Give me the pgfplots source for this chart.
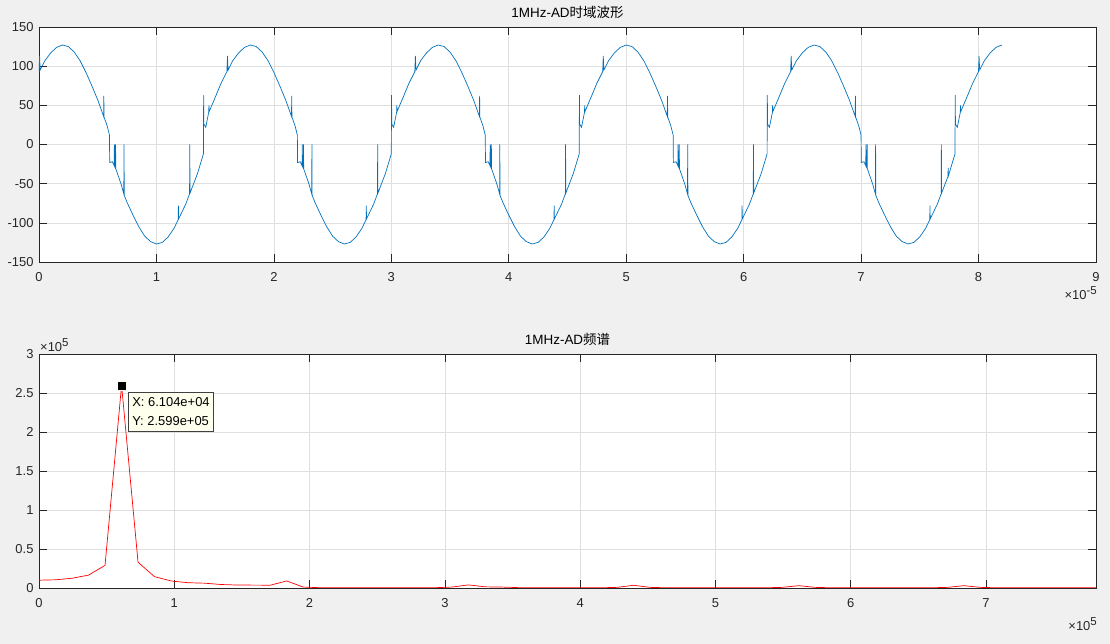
\documentclass[border=0pt]{standalone}
\usepackage{fontspec}
\setmainfont{Liberation Sans}
\newfontfamily\cjk{Noto Sans CJK SC}
\usepackage{pgfplots}
\pgfplotsset{compat=1.18}

\definecolor{figbg}{HTML}{F0F0F0}
\definecolor{axcol}{HTML}{262626}
\definecolor{mblue}{HTML}{0072BD}
\definecolor{gridcol}{HTML}{DFDFDF}
\definecolor{tipfill}{HTML}{FFFFEE}

\newcommand{\expo}[1]{{\fontsize{13}{15}\selectfont ×}10\raisebox{5bp}{\fontsize{11.5}{13}\selectfont #1}}

\pgfplotsset{
  matlab/.style={
    scale only axis, width=1057bp, height=235bp,
    clip mode=individual,
    axis background/.style={fill=white},
    axis line style={axcol, line width=0.6bp},
    grid=major, major grid style={gridcol, line width=0.6bp},
    tick align=inside, tick pos=both,
    xticklabel pos=lower, yticklabel pos=left,
    major tick length=8bp,
    every tick/.style={axcol, line width=0.6bp},
    tick label style={font=\fontsize{13}{15}\selectfont, text=axcol},
    /pgf/number format/assume math mode=true,
    title style={font=\fontsize{13.5}{15}\selectfont, text=black, anchor=base, at={(0.5,1)}, yshift=4bp},
    xticklabel style={yshift=-7bp},
    yticklabel style={xshift=-2bp},
  }
}

\begin{document}
\begin{tikzpicture}
\useasboundingbox (0,0) rectangle (1110bp,644bp);
\fill[figbg] (0,0) rectangle (1110bp,644bp);

% time domain (x in units of 1e-5 s)
\begin{axis}[matlab, at={(39bp,382bp)}, anchor=south west,
  xmin=0, xmax=9, ymin=-150, ymax=150,
  xtick={0,1,...,9}, ytick={-150,-100,...,150},
  title={1MHz-AD{\cjk 时域波形}}]
\addplot[mblue, line width=0.7bp] coordinates {
(0.000,93) (0.005,113) (0.010,95) (0.03,101) (0.05,107) (0.10,117) (0.15,124) (0.20,127)
(0.25,125) (0.30,118) (0.35,107) (0.40,92) (0.45,75) (0.50,57) (0.550,36) (0.552,62) (0.554,35)
(0.58,24) (0.600,12) (0.602,-23) (0.625,-22) (0.640,-27) (0.642,0) (0.644,-28) (0.650,-30)
(0.652,0) (0.654,-31) (0.70,-51) (0.722,-63) (0.724,0) (0.726,-65) (0.75,-74) (0.80,-90)
(0.85,-105) (0.90,-117) (0.95,-124) (1.00,-127) (1.05,-125) (1.10,-118) (1.15,-107)
(1.185,-96) (1.187,-78) (1.189,-95) (1.25,-76) (1.282,-63) (1.284,0) (1.286,-62) (1.35,-37)
(1.40,-12) (1.402,63) (1.404,26) (1.42,22) (1.445,41) (1.447,50) (1.449,42) (1.50,60) (1.55,78)
(1.600,93) (1.605,113) (1.610,95) (1.63,101) (1.65,107) (1.70,117) (1.75,124) (1.80,127)
(1.85,125) (1.90,118) (1.95,107) (2.00,92) (2.05,75) (2.10,57) (2.150,36) (2.152,62) (2.154,35)
(2.18,24) (2.200,12) (2.202,-23) (2.225,-22) (2.240,-27) (2.242,0) (2.244,-28) (2.250,-30)
(2.252,0) (2.254,-31) (2.30,-51) (2.322,-63) (2.324,0) (2.326,-65) (2.35,-74) (2.40,-90)
(2.45,-105) (2.50,-117) (2.55,-124) (2.60,-127) (2.65,-125) (2.70,-118) (2.75,-107)
(2.785,-96) (2.787,-78) (2.789,-95) (2.85,-76) (2.882,-63) (2.884,0) (2.886,-62) (2.95,-37)
(3.00,-12) (3.002,63) (3.004,26) (3.02,22) (3.045,41) (3.047,50) (3.049,42) (3.10,60) (3.15,78)
(3.200,93) (3.205,113) (3.210,95) (3.23,101) (3.25,107) (3.30,117) (3.35,124) (3.40,127)
(3.45,125) (3.50,118) (3.55,107) (3.60,92) (3.65,75) (3.70,57) (3.750,36) (3.752,62) (3.754,35)
(3.78,24) (3.800,12) (3.802,-23) (3.825,-22) (3.840,-27) (3.842,0) (3.844,-28) (3.850,-30)
(3.852,0) (3.854,-31) (3.90,-51) (3.922,-63) (3.924,0) (3.926,-65) (3.95,-74) (4.00,-90)
(4.05,-105) (4.10,-117) (4.15,-124) (4.20,-127) (4.25,-125) (4.30,-118) (4.35,-107)
(4.385,-96) (4.387,-78) (4.389,-95) (4.45,-76) (4.482,-63) (4.484,0) (4.486,-62) (4.55,-37)
(4.60,-12) (4.602,63) (4.604,26) (4.62,22) (4.645,41) (4.647,50) (4.649,42) (4.70,60) (4.75,78)
(4.800,93) (4.805,113) (4.810,95) (4.83,101) (4.85,107) (4.90,117) (4.95,124) (5.00,127)
(5.05,125) (5.10,118) (5.15,107) (5.20,92) (5.25,75) (5.30,57) (5.350,36) (5.352,62) (5.354,35)
(5.38,24) (5.400,12) (5.402,-23) (5.425,-22) (5.440,-27) (5.442,0) (5.444,-28) (5.450,-30)
(5.452,0) (5.454,-31) (5.50,-51) (5.522,-63) (5.524,0) (5.526,-65) (5.55,-74) (5.60,-90)
(5.65,-105) (5.70,-117) (5.75,-124) (5.80,-127) (5.85,-125) (5.90,-118) (5.95,-107)
(5.985,-96) (5.987,-78) (5.989,-95) (6.05,-76) (6.082,-63) (6.084,0) (6.086,-62) (6.15,-37)
(6.20,-12) (6.202,63) (6.204,26) (6.22,22) (6.245,41) (6.247,50) (6.249,42) (6.30,60) (6.35,78)
(6.400,93) (6.405,113) (6.410,95) (6.43,101) (6.45,107) (6.50,117) (6.55,124) (6.60,127)
(6.65,125) (6.70,118) (6.75,107) (6.80,92) (6.85,75) (6.90,57) (6.950,36) (6.952,62) (6.954,35)
(6.98,24) (7.000,12) (7.002,-23) (7.025,-22) (7.040,-27) (7.042,0) (7.044,-28) (7.050,-30)
(7.052,0) (7.054,-31) (7.10,-51) (7.122,-63) (7.124,0) (7.126,-65) (7.15,-74) (7.20,-90)
(7.25,-105) (7.30,-117) (7.35,-124) (7.40,-127) (7.45,-125) (7.50,-118) (7.55,-107)
(7.585,-96) (7.587,-78) (7.589,-95) (7.65,-76) (7.682,-63) (7.684,0) (7.686,-62) (7.74,-41)
(7.742,-30) (7.744,-40) (7.80,-12) (7.802,63) (7.804,26) (7.82,22) (7.845,41) (7.847,50)
(7.849,42) (7.90,60) (7.95,78)
(8.000,93) (8.005,113) (8.010,95) (8.03,101) (8.05,107) (8.10,117) (8.15,124) (8.20,127)
};
\node[anchor=base east, inner sep=0pt, xshift=1bp, yshift=-38bp, font=\fontsize{13}{15}\selectfont, text=axcol]
  at (rel axis cs:1,0) {\expo{-5}};
\end{axis}

% spectrum (x and y in units of 1e5)
\begin{axis}[matlab, at={(39bp,56bp)}, anchor=south west, height=234bp,
  xmin=0, xmax=7.8125, ymin=0, ymax=3,
  xtick={0,1,...,7}, ytick={0,0.5,...,3},
  title={1MHz-AD{\cjk 频谱}}]
\addplot[red, line width=0.7bp] coordinates {
(0.000,0.100) (0.122,0.105) (0.244,0.125) (0.366,0.165) (0.488,0.29) (0.6104,2.599)
(0.732,0.33) (0.854,0.145) (0.977,0.09) (1.099,0.068) (1.221,0.062) (1.343,0.045)
(1.465,0.038) (1.587,0.037) (1.709,0.036) (1.831,0.09) (1.953,0.012) (2.075,0.004)
(2.197,0.003) (2.319,0.003) (2.441,0.002) (2.563,0.002) (2.686,0.002) (2.808,0.003)
(2.930,0.004) (3.052,0.012) (3.174,0.040) (3.296,0.015) (3.418,0.012) (3.540,0.005)
(3.662,0.003) (3.784,0.002) (3.906,0.002) (4.028,0.002) (4.150,0.003) (4.272,0.008)
(4.395,0.035) (4.517,0.008) (4.639,0.003) (4.761,0.002) (4.883,0.002) (5.005,0.002)
(5.127,0.002) (5.249,0.002) (5.371,0.003) (5.493,0.008) (5.615,0.030) (5.737,0.008)
(5.859,0.003) (5.981,0.002) (6.104,0.002) (6.226,0.002) (6.348,0.002) (6.470,0.002)
(6.592,0.003) (6.714,0.008) (6.836,0.030) (6.958,0.008) (7.080,0.003) (7.202,0.002)
(7.324,0.002) (7.446,0.002) (7.568,0.002) (7.690,0.002) (7.8125,0.002)
};
% data tip
\addplot[only marks, mark=square*, mark size=4.5bp, mark options={fill=black, draw=tipfill, line width=0.5bp}]
  coordinates {(0.6104,2.599)};
\node[anchor=north west, draw=black!75, fill=tipfill, line width=1bp, align=left,
  inner xsep=4bp, inner ysep=5.5bp, font=\fontsize{13}{19}\selectfont]
  at (axis cs:0.656,2.517) {X: 6.104e+04\\Y: 2.599e+05};
\node[anchor=base west, inner sep=0pt, xshift=1bp, yshift=3bp, font=\fontsize{13}{15}\selectfont, text=axcol]
  at (rel axis cs:0,1) {\expo{5}};
\node[anchor=base east, inner sep=0pt, xshift=1bp, yshift=-42bp, font=\fontsize{13}{15}\selectfont, text=axcol]
  at (rel axis cs:1,0) {\expo{5}};
\end{axis}
\end{tikzpicture}
\end{document}
